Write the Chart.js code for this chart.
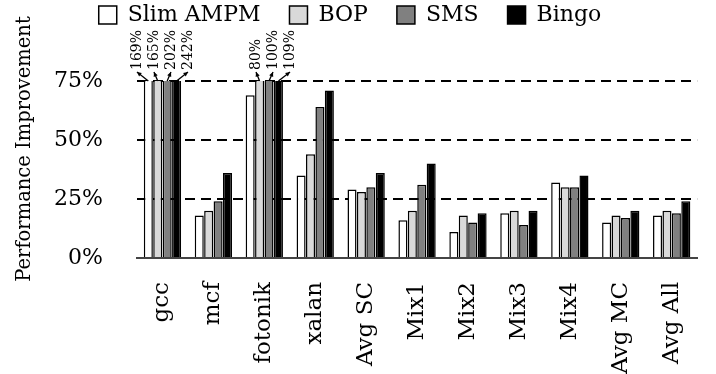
<!DOCTYPE html>
<html>
<head>
<meta charset="utf-8">
<script src="https://cdn.jsdelivr.net/npm/chart.js@4.4.1/dist/chart.umd.min.js"></script>
<style>
  html, body { margin: 0; padding: 0; background: #fff; }
  #wrap { width: 716px; height: 374px; }
</style>
</head>
<body>
<div id="wrap"><canvas id="perfChart"></canvas></div>
<script>
const categories = ["gcc", "mcf", "fotonik", "xalan", "Avg SC", "Mix1", "Mix2", "Mix3", "Mix4", "Avg MC", "Avg All"];
const seriesNames = ["Slim AMPM", "BOP", "SMS", "Bingo"];
const slimAmpm = [169, 18, 69, 35, 29, 16, 11, 19, 32, 15, 18];
const bop      = [165, 20, 80, 44, 28, 20, 18, 20, 30, 18, 20];
const sms      = [202, 24, 100, 64, 30, 31, 15, 14, 30, 17, 19];
const bingo    = [242, 36, 109, 71, 36, 40, 19, 20, 35, 20, 24];
const yTicks = [0, 25, 50, 75];
const yMax = 75;

const fillColors = ["#ffffff", "#d9d9d9", "#808080", "#000000"];
const serif = "'DejaVu Serif', serif";

// labels + arrows for bars that go past the top of the axis
const overflowLabels = {
  id: "overflowLabels",
  afterDatasetsDraw(chart) {
    const ctx = chart.ctx;
    const top = chart.chartArea.top;
    const metas = chart.data.datasets.map((d, i) => chart.getDatasetMeta(i));
    categories.forEach((c, i) => {
      const over = [];
      chart.data.datasets.forEach((ds, j) => {
        if (ds.data[i] > yMax) over.push({ v: ds.data[i], bar: metas[j].data[i] });
      });
      if (!over.length) return;
      const mid = over.reduce((s, o) => s + o.bar.x, 0) / over.length;
      over.forEach((o, k) => {
        const tx = mid + (k - (over.length - 1) / 2) * 17 + (over.length < 4 ? 4 : 0);
        const ty = top - 9;
        ctx.save();
        ctx.strokeStyle = "#000";
        ctx.fillStyle = "#000";
        ctx.lineWidth = 1.3;
        ctx.beginPath();
        ctx.moveTo(o.bar.x, top);
        ctx.lineTo(tx, ty);
        ctx.stroke();
        const ang = Math.atan2(ty - top, tx - o.bar.x);
        ctx.beginPath();
        ctx.moveTo(tx, ty);
        ctx.lineTo(tx - 5 * Math.cos(ang - 0.45), ty - 5 * Math.sin(ang - 0.45));
        ctx.lineTo(tx - 5 * Math.cos(ang + 0.45), ty - 5 * Math.sin(ang + 0.45));
        ctx.closePath();
        ctx.fill();
        ctx.translate(tx, ty - 2);
        ctx.rotate(-Math.PI / 2);
        ctx.font = "14px " + serif;
        ctx.textAlign = "left";
        ctx.textBaseline = "middle";
        ctx.fillText(o.v + "%", 0, 0);
        ctx.restore();
      });
    });
  }
};

// y axis title, drawn by hand so it can sit where the original has it
const yTitle = {
  id: "yTitle",
  afterDraw(chart) {
    const ctx = chart.ctx;
    ctx.save();
    ctx.translate(25, 149);
    ctx.rotate(-Math.PI / 2);
    ctx.font = "19.5px " + serif;
    ctx.fillStyle = "#000";
    ctx.textAlign = "center";
    ctx.textBaseline = "middle";
    ctx.fillText("Performance Improvement", 0, 0);
    ctx.restore();
  }
};

const legendShift = {
  id: "legendShift",
  afterLayout(chart) {
    chart.legend.top -= 45;
    chart.legend.bottom -= 45;
  }
};

const seriesData = [slimAmpm, bop, sms, bingo];

new Chart(document.getElementById("perfChart"), {
  type: "bar",
  data: {
    labels: categories,
    datasets: seriesNames.map((name, i) => ({
      label: name,
      data: seriesData[i],
      backgroundColor: fillColors[i],
      borderColor: "#000",
      borderWidth: 1.5,
      categoryPercentage: 0.74,
      barPercentage: 0.96
    }))
  },
  options: {
    responsive: true,
    maintainAspectRatio: false,
    animation: false,
    layout: { padding: { top: 20, right: 16, left: 0, bottom: 0 } },
    plugins: {
      tooltip: { enabled: false },
      legend: {
        position: "top",
        labels: {
          font: { family: serif, size: 22 },
          color: "#000",
          boxWidth: 18,
          boxHeight: 18,
          padding: 29
        }
      }
    },
    scales: {
      x: {
        grid: { display: false },
        border: { display: true, color: "#444", width: 2 },
        ticks: {
          font: { family: serif, size: 23 },
          color: "#000",
          minRotation: 90,
          maxRotation: 90,
          padding: 16
        },
        afterFit(scale) { scale.height = 116; }
      },
      y: {
        min: 0,
        max: yMax,
        afterBuildTicks(scale) { scale.ticks = yTicks.map(v => ({ value: v })); },
        grid: {
          color: (c) => (c.tick && c.tick.value === 0 ? "rgba(0,0,0,0)" : "#000"),
          lineWidth: 2,
          drawTicks: false
        },
        border: { display: false, dash: [10, 6] },
        ticks: {
          font: { family: serif, size: 22 },
          color: "#000",
          padding: 34,
          callback: (v) => v + "%"
        },
        afterFit(scale) { scale.width = 137; }
      }
    }
  },
  plugins: [overflowLabels, yTitle, legendShift]
});
</script>
</body>
</html>
